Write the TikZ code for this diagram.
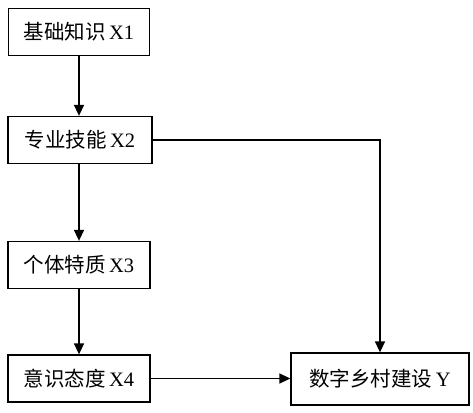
\documentclass[tikz,border=0pt]{standalone}
\usepackage{fontspec}
\setmainfont{Liberation Serif}
\newfontfamily\cjk{Noto Sans CJK SC}[FakeBold=0]
\usetikzlibrary{arrows.meta}
\begin{document}
\begin{tikzpicture}[x=1pt,y=-1pt,
  box/.style={draw,line width=1.3pt,minimum height=47pt,inner sep=0pt,font=\fontsize{20.5}{22}\selectfont},
  conn/.style={line width=1.5pt,-{Triangle[width=10pt,length=11pt]}}]
\useasboundingbox (0,0) rectangle (473,412);
\node[box,minimum width=141pt] (x1) at (79,32) {{\cjk 基础知识}\,X1};
\node[box,minimum width=144pt] (x2) at (80,140) {{\cjk 专业技能}\,X2};
\node[box,minimum width=142pt] (x3) at (79,265) {{\cjk 个体特质}\,X3};
\node[box,minimum width=142pt] (x4) at (79,378.5) {{\cjk 意识态度}\,X4};
\node[box,minimum width=178pt,minimum height=52pt] (y) at (380,379) {{\cjk 数字乡村建设}\,Y};
\draw[conn] (x1.south -| 79,0) -- (x2.north -| 79,0);
\draw[conn] (x2.south -| 79,0) -- (x3.north -| 79,0);
\draw[conn] (x3.south) -- (x4.north);
\draw[conn] (x4.east) -- (x4.east -| y.west);
\draw[conn] (x2.east) -| (y.north);
\end{tikzpicture}
\end{document}
